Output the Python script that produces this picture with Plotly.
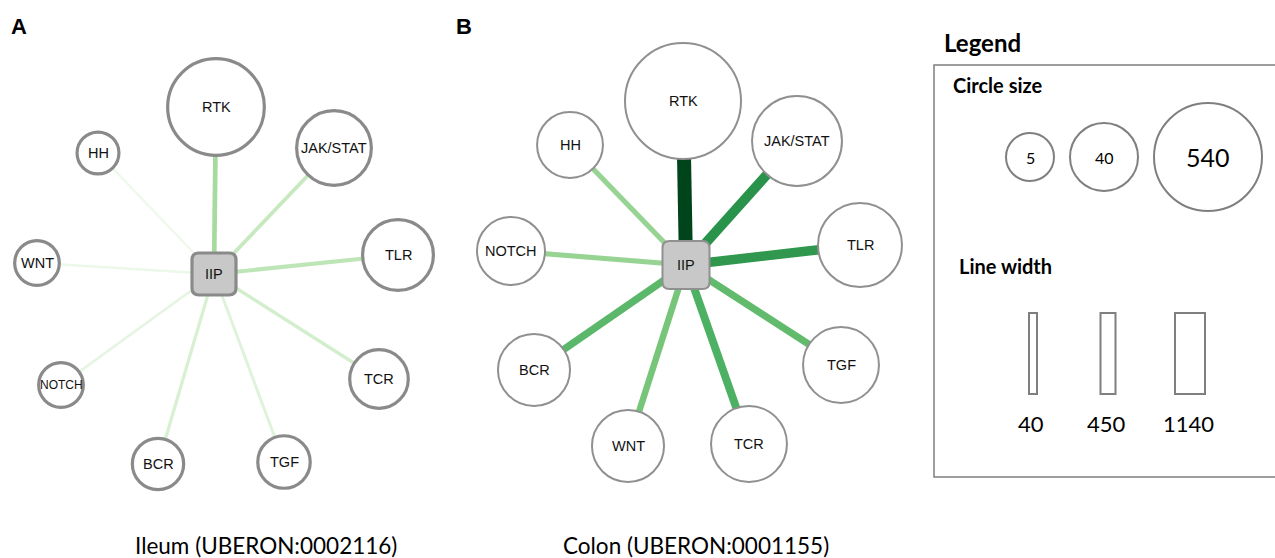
import numpy as np
import plotly.graph_objects as go
from plotly.colors import sample_colorscale

W, H = 1275, 558

# ---------------- data ----------------
pathways = ["RTK", "JAK/STAT", "TLR", "TCR", "TGF", "BCR", "NOTCH", "WNT", "HH"]
hub_name = "IIP"

# Panel A: Ileum
ileum_genes = [280, 67, 52, 17, 9, 8, 4, 4, 3]                 # circle size value
ileum_weight = [410, 285, 320, 230, 170, 205, 137, 90, 70]     # edge weight value
# Panel B: Colon
colon_genes = [910, 167, 113, 67, 67, 52, 40, 52, 32]
colon_weight = [1140, 820, 800, 680, 620, 640, 460, 560, 460]

legend_circle_values = [5, 40, 540]
legend_line_values = [40, 450, 1140]

captions = ["Ileum (UBERON:0002116)", "Colon (UBERON:0001155)"]
panel_letters = ["A", "B"]

# ---------------- layout (network node positions, px) ----------------
ileum_pos_x = [216, 334, 398, 379, 284, 158, 61, 37, 98]
ileum_pos_y = [107, 148, 255, 379, 462, 464, 385, 263, 153]
ileum_hub = (214, 274)
colon_pos_x = [683, 797, 860, 749, 841, 534, 511, 628, 570]
colon_pos_y = [101, 141, 245, 444, 365, 370, 251, 446, 145]
colon_hub = (686, 265)

# ---------------- scales ----------------
SIZE_ANCH = np.log([5, 40, 540])
DIAM_ANCH = [50, 70, 110]


def node_diam(c):
    lc = np.log(c)
    if lc <= SIZE_ANCH[1]:
        return DIAM_ANCH[0] + (lc - SIZE_ANCH[0]) * (DIAM_ANCH[1] - DIAM_ANCH[0]) / (SIZE_ANCH[1] - SIZE_ANCH[0])
    return DIAM_ANCH[1] + (lc - SIZE_ANCH[1]) * (DIAM_ANCH[2] - DIAM_ANCH[1]) / (SIZE_ANCH[2] - SIZE_ANCH[1])


def edge_width(w):
    return float(np.interp(w, [0, 40, 450, 1140], [1, 2, 5, 14]))


def edge_color(w):
    return sample_colorscale("Greens", [min(w / 1140.0, 1.0)])[0]


def rounded_rect(cx, cy, w, h, r):
    x0, x1, y0, y1 = cx - w / 2, cx + w / 2, cy - h / 2, cy + h / 2
    return (f"M {x0+r},{y0} L {x1-r},{y0} Q {x1},{y0} {x1},{y0+r} "
            f"L {x1},{y1-r} Q {x1},{y1} {x1-r},{y1} L {x0+r},{y1} "
            f"Q {x0},{y1} {x0},{y1-r} L {x0},{y0+r} Q {x0},{y0} {x0+r},{y0} Z")


fig = go.Figure()
shapes = []
annotations = []

ARIAL = "Liberation Sans, Arial, sans-serif"
CAL = "Lato, Open Sans, sans-serif"

panels = [
    dict(px=ileum_pos_x, py=ileum_pos_y, hub=ileum_hub, genes=ileum_genes,
         weight=ileum_weight, lw=3.2, lc="#8a8a8a", hubw=44, hubh=42, fs=14.5),
    dict(px=colon_pos_x, py=colon_pos_y, hub=colon_hub, genes=colon_genes,
         weight=colon_weight, lw=2, lc="#909090", hubw=47, hubh=48, fs=14.5),
]

for p in panels:
    hx, hy = p["hub"]
    # edges
    for name, x, y, w in zip(pathways, p["px"], p["py"], p["weight"]):
        fig.add_trace(go.Scatter(x=[hx, x], y=[hy, y], mode="lines",
                                 line=dict(color=edge_color(w), width=edge_width(w)),
                                 hoverinfo="skip", showlegend=False))
for p in panels:
    # nodes
    diams = [node_diam(c) - p["lw"] for c in p["genes"]]
    fig.add_trace(go.Scatter(x=p["px"], y=p["py"], mode="markers",
                             marker=dict(size=diams, color="white", opacity=1,
                                         line=dict(color=p["lc"], width=p["lw"])),
                             text=pathways, hoverinfo="text", showlegend=False))
    for name, x, y, d in zip(pathways, p["px"], p["py"], diams):
        fs = p["fs"]
        if name == "NOTCH" and d < 50:
            fs = 12
        annotations.append(dict(x=x, y=y, text=name, showarrow=False,
                                font=dict(family=ARIAL, size=fs, color="#111111"),
                                xanchor="center", yanchor="middle"))
    hx, hy = p["hub"]
    # hub
    shapes.append(dict(type="path", path=rounded_rect(hx, hy, p["hubw"], p["hubh"], 7),
                       xref="x", yref="y", fillcolor="#c8c8c8",
                       line=dict(color=p["lc"], width=p["lw"])))
    annotations.append(dict(x=hx, y=hy, text=hub_name, showarrow=False,
                            font=dict(family=ARIAL, size=p["fs"], color="#111111")))

# panel letters and captions
for letter, x in zip(panel_letters, [19, 464]):
    annotations.append(dict(x=x, y=26, text=f"<b>{letter}</b>", showarrow=False,
                            font=dict(family=ARIAL, size=22, color="black")))
for cap, x in zip(captions, [266, 696]):
    annotations.append(dict(x=x, y=545, text=cap, showarrow=False,
                            font=dict(family=CAL, size=22.5, color="black")))

# ---------------- legend ----------------
annotations.append(dict(x=942, y=42, text="<b>Legend</b>", showarrow=False, xanchor="left",
                        font=dict(family=CAL, size=24, color="black")))
shapes.append(dict(type="rect", xref="x", yref="y", x0=934, x1=1300, y0=65, y1=477,
                   line=dict(color="#7f7f7f", width=1.5), fillcolor="rgba(0,0,0,0)"))
annotations.append(dict(x=951, y=85, text="<b>Circle size</b>", showarrow=False, xanchor="left",
                        font=dict(family=CAL, size=20, color="black")))
annotations.append(dict(x=957, y=266, text="<b>Line width</b>", showarrow=False, xanchor="left",
                        font=dict(family=CAL, size=20, color="black")))

leg_cx = [1030, 1104, 1208]
leg_cy = 157
leg_d = [node_diam(v) - 2 for v in legend_circle_values]
fig.add_trace(go.Scatter(x=leg_cx, y=[leg_cy] * 3, mode="markers",
                         marker=dict(size=leg_d, color="white", opacity=1,
                                     line=dict(color="#7f7f7f", width=2)),
                         hoverinfo="skip", showlegend=False))
for v, x, fs in zip(legend_circle_values, leg_cx, [16, 16, 25]):
    annotations.append(dict(x=x, y=leg_cy, text=str(v), showarrow=False,
                            font=dict(family=CAL, size=fs, color="black")))

rect_cx = [1033, 1108, 1190]
rect_w = [float(np.interp(v, [40, 450, 1140], [8, 15, 30])) for v in legend_line_values]
for v, x, w in zip(legend_line_values, rect_cx, rect_w):
    shapes.append(dict(type="rect", xref="x", yref="y", x0=x - w / 2, x1=x + w / 2, y0=313, y1=394,
                       line=dict(color="#7f7f7f", width=2), fillcolor="white"))
    annotations.append(dict(x=x - 2, y=423, text=str(v), showarrow=False,
                            font=dict(family=CAL, size=22, color="black")))

fig.update_layout(
    width=W, height=H, margin=dict(l=0, r=0, t=0, b=0),
    paper_bgcolor="white", plot_bgcolor="white",
    xaxis=dict(range=[0, W], visible=False, fixedrange=True),
    yaxis=dict(range=[H, 0], visible=False, fixedrange=True),
    shapes=shapes, annotations=annotations, showlegend=False,
)

fig.write_html("out.html", config={"displayModeBar": False},
               post_script="document.body.style.margin='0';document.body.style.overflow='hidden';")
